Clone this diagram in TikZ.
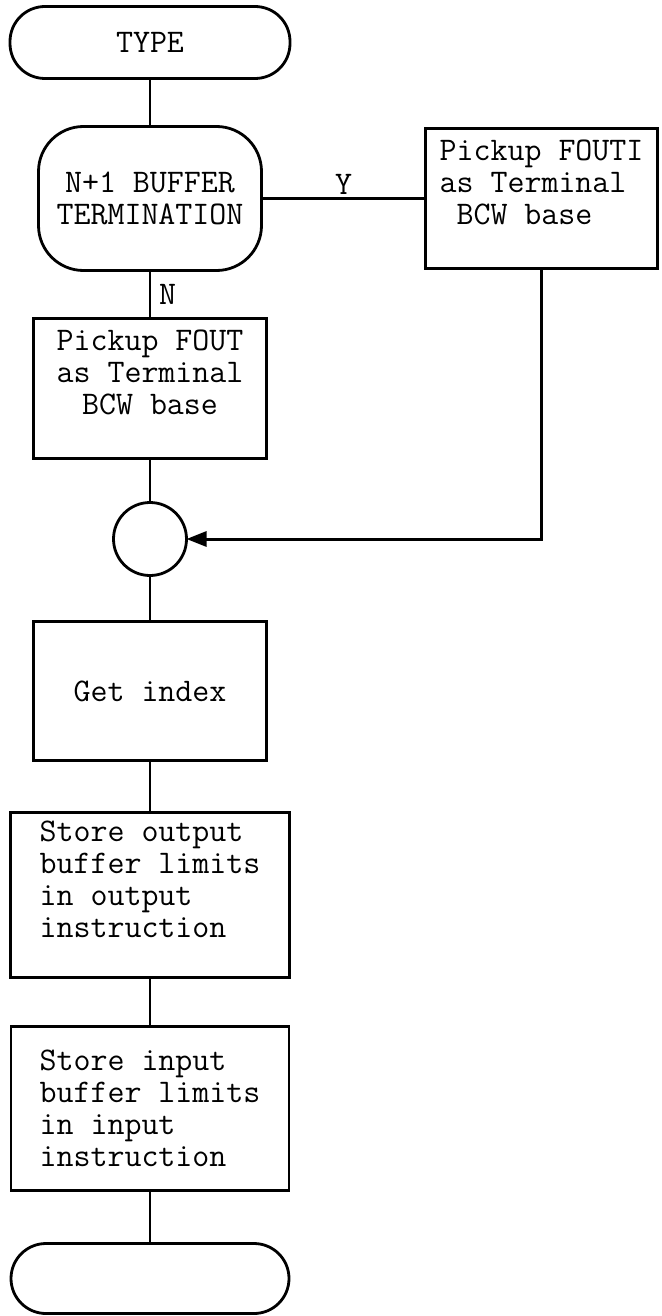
\documentclass[tikz,border=0pt]{standalone}
\usepackage{tikz}
\usetikzlibrary{arrows.meta,positioning}

\begin{document}
\begin{tikzpicture}[
  node distance=48pt and 164pt,
  font=\fontsize{33}{32}\selectfont\ttfamily,
  box/.style={draw, line width=2.8pt, align=center, inner sep=4pt, outer sep=0pt},
  decide/.style={box, rounded corners=45pt, minimum width=223pt, minimum height=144pt},
  term/.style={box, rounded corners=35pt, minimum height=72pt},
  conn/.style={draw, circle, line width=2.8pt, minimum size=73pt, inner sep=0pt, outer sep=0pt},
  ln/.style={line width=2.2pt},
  ar/.style={-{Triangle[length=20pt,width=15pt]}, line width=3pt}
]
\useasboundingbox (0,0) rectangle (661pt,-1316pt);

\node[term, minimum width=280pt] at (150pt,-42.5pt) (type) {TYPE};
\node[decide, below=of type] (nplus) {N+1 BUFFER\\TERMINATION};
\node[box, right=of nplus, minimum width=232pt, minimum height=140pt, align=left] (pickB)
  {Pickup FOUTI\\as Terminal\\\ BCW base\\~};
\node[box, below=of nplus, minimum width=233pt, minimum height=140pt] (pickA)
  {Pickup FOUT\\as Terminal\\BCW base\\~};
\node[conn, below=44pt of pickA] (join) {};
\node[box, below=46pt of join, minimum width=233pt, minimum height=139pt] (index) {Get index};
\node[box, below=52pt of index, minimum width=279pt, minimum height=165pt, align=left] (storeout)
  {Store output\\buffer limits\\in output\\instruction\\~};
\node[box, below=49pt of storeout, minimum width=278pt, minimum height=164pt, align=left] (storein)
  {Store input\\buffer limits\\in input\\instruction};
\node[term, below=53pt of storein, minimum width=278pt, minimum height=70pt] (stop) {};

\draw[ln] (type) -- (nplus);
\draw[ln, line width=3pt] (nplus) -- node[above, inner sep=3pt] (ylab) {Y} (pickB);
\draw[ln] (nplus) -- node[right, inner sep=8pt] (nlab) {N} (pickA);
\draw[ln] (pickA) -- (join);
\draw[ar] (pickB) |- (join);
\draw[ln] (join) -- (index);
\draw[ln] (index) -- (storeout);
\draw[ln] (storeout) -- (storein);
\draw[ln] (storein) -- (stop);
\end{tikzpicture}
\end{document}
